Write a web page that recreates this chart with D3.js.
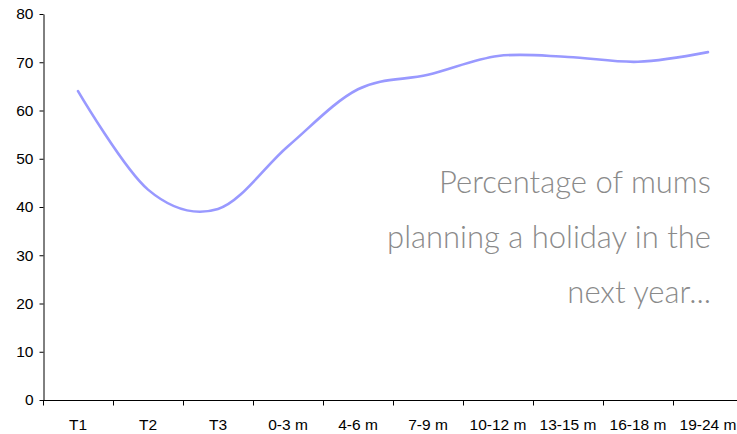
<!DOCTYPE html>
<html>
<head>
<meta charset="utf-8">
<script src="https://cdn.jsdelivr.net/npm/d3@7"></script>
<style>
    body { margin: 0; background: #fff; }
    svg { display: block; }
    .axis text { font-family: "Liberation Sans", Arial, sans-serif; font-size: 15.5px; fill: #000; }
    .axis path, .axis line { stroke: #000; }
</style>
</head>
<body>
<div id="chart"></div>
<script>
// Chart data
const categories = ['T1', 'T2', 'T3', '0-3 m', '4-6 m', '7-9 m', '10-12 m', '13-15 m', '16-18 m', '19-24 m'];
const percentPlanning = [64, 43.6, 39.6, 52.6, 64.4, 67.4, 71.3, 71.1, 70.1, 72.1];
const yTicks = [0, 10, 20, 30, 40, 50, 60, 70, 80];
const noteLines = ['Percentage of mums', 'planning a holiday in the', 'next year...'];

const width = 737;
const height = 434;
const margin = { top: 14, right: -6, bottom: 34, left: 43 };

const svg = d3.select('#chart').append('svg')
    .attr('width', width)
    .attr('height', height);

const x = d3.scaleBand()
    .domain(categories)
    .range([margin.left, width - margin.right]);

const y = d3.scaleLinear()
    .domain([0, 80])
    .range([height - margin.bottom, margin.top]);

// Y axis
svg.append('g')
    .attr('class', 'axis')
    .attr('transform', `translate(${margin.left + 0.5},0)`)
    .call(d3.axisLeft(y).tickValues(yTicks).tickSize(4).tickPadding(6).tickSizeOuter(0));

// X axis, ticks sit on the category boundaries
const xAxis = svg.append('g')
    .attr('class', 'axis')
    .attr('transform', `translate(0,${y(0) + 0.5})`);

xAxis.append('line')
    .attr('x1', margin.left)
    .attr('x2', width - margin.right)
    .attr('stroke', '#000');

xAxis.selectAll('.tick-mark')
    .data(categories)
    .join('line')
    .attr('class', 'tick-mark')
    .attr('x1', d => x(d) + 0.5)
    .attr('x2', d => x(d) + 0.5)
    .attr('y1', 0)
    .attr('y2', 5)
    .attr('stroke', '#000');

xAxis.selectAll('.tick-label')
    .data(categories)
    .join('text')
    .attr('class', 'tick-label')
    .attr('x', d => x(d) + x.bandwidth() / 2)
    .attr('y', 29.5)
    .attr('text-anchor', 'middle')
    .text(d => d);

// Smoothed line
const line = d3.line()
    .x((d, i) => x(categories[i]) + x.bandwidth() / 2)
    .y(d => y(d))
    .curve(d3.curveCatmullRom.alpha(0));

svg.append('path')
    .datum(percentPlanning)
    .attr('fill', 'none')
    .attr('stroke', '#9999ff')
    .attr('stroke-width', 2.6)
    .attr('stroke-linecap', 'round')
    .attr('d', line);

// Handwritten-style note
const note = svg.append('text')
    .attr('font-family', 'Lato, "Open Sans", sans-serif')
    .attr('font-weight', 300)
    .attr('font-size', 31)
    .attr('fill', '#8a8a8a')
    .attr('text-anchor', 'end');

note.selectAll('tspan')
    .data(noteLines)
    .join('tspan')
    .attr('x', 711)
    .attr('y', (d, i) => 193 + i * 55)
    .text(d => d);
</script>
</body>
</html>
